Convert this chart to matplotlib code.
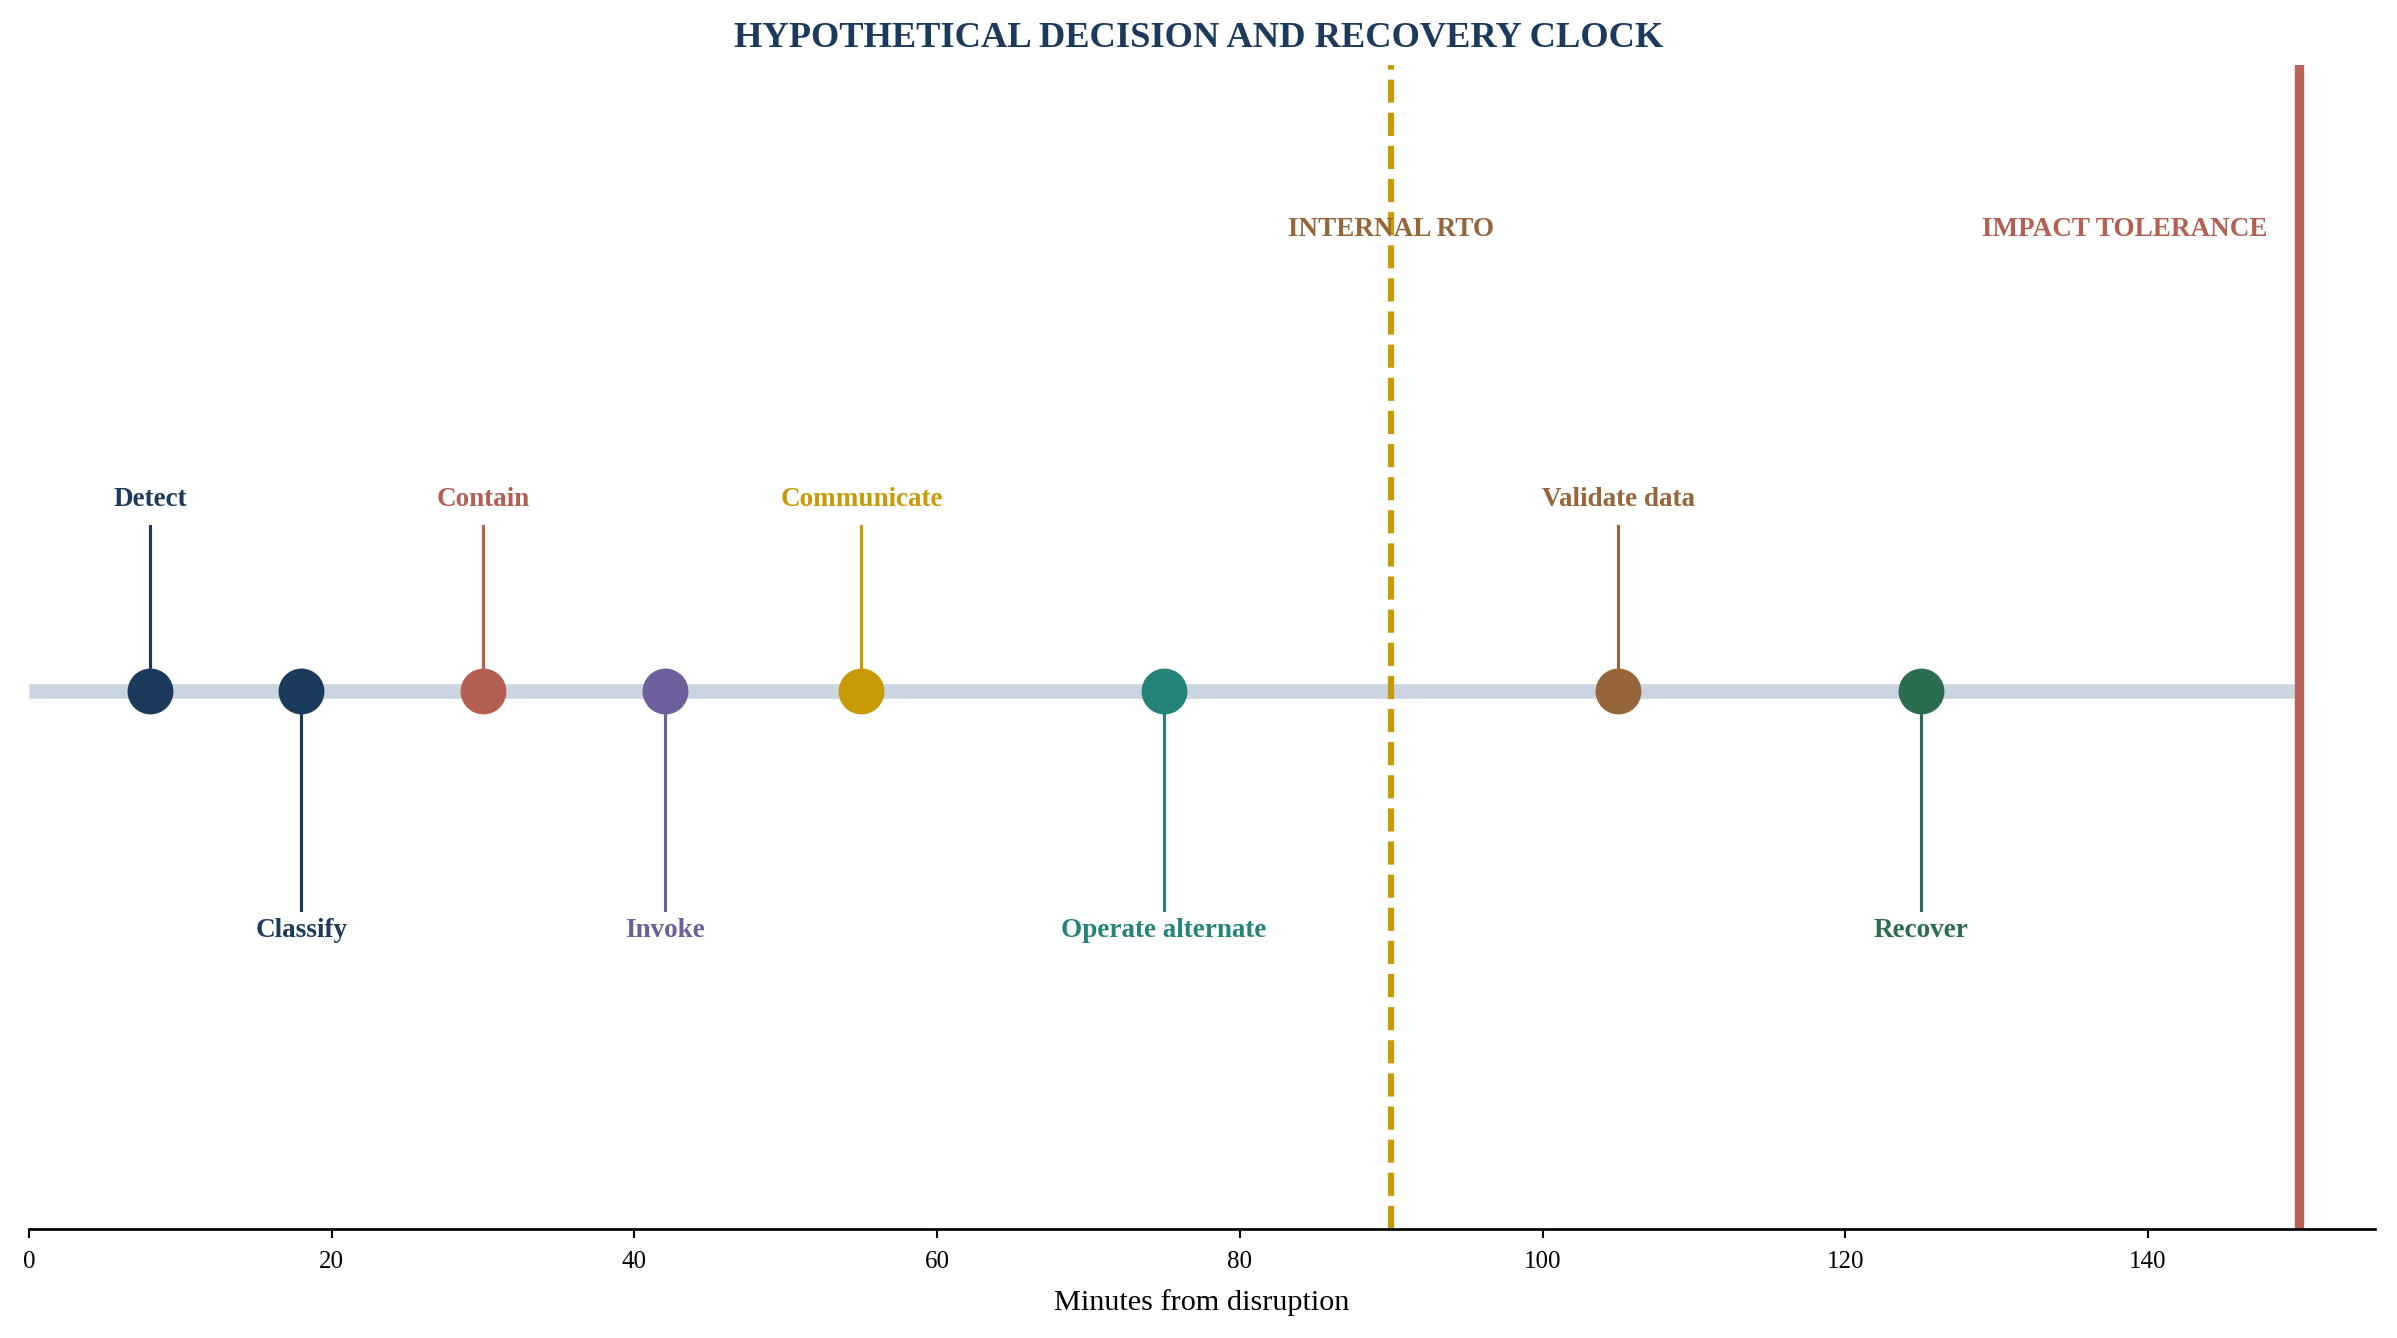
import matplotlib.pyplot as plt

plt.rcParams['font.family'] = ['Liberation Serif', 'DejaVu Serif']

# events on the recovery clock
events = ['Detect', 'Classify', 'Contain', 'Invoke', 'Communicate',
          'Operate alternate', 'Validate data', 'Recover']
minutes = [8, 18, 30, 42, 55, 75, 105, 125]
sides = [1, -1, 1, -1, 1, -1, 1, -1]   # label above (1) or below (-1)
colors = ['#1b3a5c', '#1b3a5c', '#b35f52', '#6e5e9c', '#c89a06',
          '#25847a', '#97653a', '#2b6e4f']

rto_minutes = 90
tolerance_minutes = 150
xticks = [0, 20, 40, 60, 80, 100, 120, 140]

fig = plt.figure(figsize=(2397 / 150, 1338 / 150), dpi=150)
ax = fig.add_axes([0.0121, 0.0815, 0.9787, 0.870])

# base timeline
ax.plot([0, tolerance_minutes], [0, 0], color='#cbd5e1', lw=7,
        solid_capstyle='butt', zorder=1)

# thresholds
ax.axvline(rto_minutes, color='#c89a06', lw=3, ls='--', zorder=2)
ax.axvline(tolerance_minutes, color='#b8625a', lw=4.5, zorder=2)
ax.text(rto_minutes, 2.10, 'INTERNAL RTO', color='#97653a', fontsize=13,
        fontweight='bold', ha='center', va='center')
ax.text(tolerance_minutes - 2.1, 2.10, 'IMPACT TOLERANCE', color='#b35f52',
        fontsize=13, fontweight='bold', ha='right', va='center')

# stems, markers and labels
for name, m, s, c in zip(events, minutes, sides, colors):
    stem_end = 0.75 if s > 0 else -1.0
    ax.plot([m, m], [0, stem_end], color=c, lw=1.5, zorder=3)
    ax.plot(m, 0, 'o', color=c, markersize=21, zorder=4)
    label_y = 0.87 if s > 0 else -1.09
    ax.text(m, label_y, name, color=c, fontsize=13, fontweight='bold',
            ha='center', va='center')

ax.set_xlim(0, 155)
ax.set_ylim(-2.45, 2.85)
ax.set_xticks(xticks)
ax.set_yticks([])
ax.tick_params(axis='x', labelsize=12, length=4.5, width=1, pad=6)
for side in ['top', 'right', 'left']:
    ax.spines[side].set_visible(False)
ax.spines['bottom'].set_linewidth(1.3)
ax.set_xlabel('Minutes from disruption', fontsize=14.5, labelpad=8)

fig.suptitle('HYPOTHETICAL DECISION AND RECOVERY CLOCK', color='#1b3a5c',
             fontsize=17.5, fontweight='bold', y=0.971, va='center')

fig.savefig('out.png', dpi=150)
